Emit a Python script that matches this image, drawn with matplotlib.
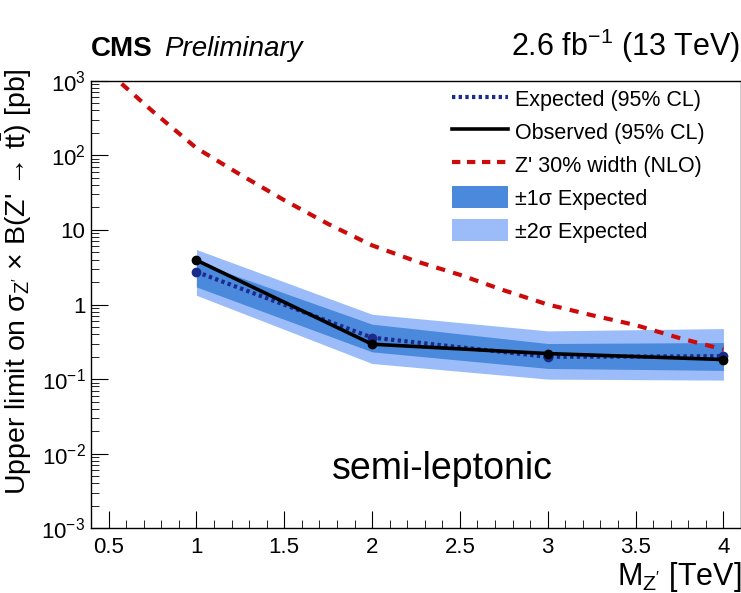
import matplotlib
matplotlib.use("Agg")
import matplotlib.pyplot as plt
from matplotlib.ticker import FixedLocator, MultipleLocator, NullFormatter
from matplotlib.patches import Patch
from matplotlib.lines import Line2D

plt.rcParams['font.family'] = ['Liberation Sans', 'DejaVu Sans']
plt.rcParams['mathtext.fontset'] = 'custom'
plt.rcParams['mathtext.rm'] = 'Liberation Sans'
plt.rcParams['mathtext.it'] = 'Liberation Sans:italic'
plt.rcParams['mathtext.bf'] = 'Liberation Sans:bold'

# Z' mass points [TeV] and limits [pb]
mass = [1.0, 2.0, 3.0, 4.0]
observed = [3.93, 0.294, 0.22, 0.183]
expected = [2.74, 0.36, 0.199, 0.203]
exp_m1 = [1.72, 0.232, 0.139, 0.131]
exp_p1 = [3.72, 0.545, 0.30, 0.309]
exp_m2 = [1.33, 0.162, 0.100, 0.097]
exp_p2 = [5.46, 0.74, 0.443, 0.476]

# Theory cross section, Z' with 30% width (NLO)
theory_mass = [0.5, 0.75, 1.0, 1.25, 1.5, 1.75, 2.0, 2.25, 2.5, 2.75,
               3.0, 3.25, 3.5, 3.75, 4.0]
theory_xsec = [1300.0, 390.0, 125.0, 55.0, 25.0, 12.0, 6.2, 3.8, 2.5, 1.55,
               1.0, 0.72, 0.53, 0.355, 0.25]

y_ticks = [1e-3, 1e-2, 1e-1, 1, 10, 1e2, 1e3]
y_tick_labels = [r'$10^{-3}$', r'$10^{-2}$', r'$10^{-1}$', '1', '10',
                 r'$10^{2}$', r'$10^{3}$']
x_ticks = [0.5, 1, 1.5, 2, 2.5, 3, 3.5, 4]
x_tick_labels = ['0.5', '1', '1.5', '2', '2.5', '3', '3.5', '4']

c_1sig = '#4a89dc'
c_2sig = '#9bbcf8'
c_exp = '#1c2a8c'
c_th = '#cc0a0a'

fig = plt.figure(figsize=(7.41, 5.93), dpi=100)
ax = fig.add_axes([0.1228, 0.109, 0.8772, 0.755])

ax.fill_between(mass, exp_m2, exp_p2, color=c_2sig, lw=0, zorder=1)
ax.fill_between(mass, exp_m1, exp_p1, color=c_1sig, lw=0, zorder=2)
ax.plot(theory_mass, theory_xsec, color=c_th, lw=3.0, ls=(0, (2.2, 2.0)),
        zorder=3)
ax.plot(mass, expected, color=c_exp, lw=3.0, ls=(0, (0.8, 0.8)),
        marker='o', ms=6, zorder=4)
ax.plot(mass, observed, color='black', lw=2.6, marker='o', ms=6, zorder=5)

ax.set_yscale('log')
ax.set_ylim(1e-3, 1e3)
ax.set_xlim(0.4, 4.1)
ax.yaxis.set_major_locator(FixedLocator(y_ticks))
ax.set_yticklabels(y_tick_labels)
ax.set_xticks(x_ticks)
ax.set_xticklabels(x_tick_labels)
ax.xaxis.set_minor_locator(MultipleLocator(0.1))
ax.tick_params(axis='both', which='both', direction='in', top=False,
               right=False, labelsize=16)
ax.tick_params(axis='x', which='major', length=12, pad=6)
ax.tick_params(axis='x', which='minor', length=6)
ax.tick_params(axis='y', which='major', length=12, pad=4)
ax.tick_params(axis='y', which='minor', length=6)
ax.yaxis.set_minor_formatter(NullFormatter())
for s in ax.spines.values():
    s.set_linewidth(1.0)

ax.set_xlabel(r"M$_{\mathrm{Z'}}$ [TeV]", fontsize=22, loc='right',
              labelpad=2)
ax.set_ylabel("Upper limit on σ$_{\\mathrm{Z'}}$ × B(Z' → t$\\bar{\\mathrm{t}}$) [pb]",
              fontsize=20.5)
ax.yaxis.set_label_coords(-0.088, 0.55)

fig.text(0.1228, 0.905, 'CMS', fontsize=20, fontweight='bold',
         ha='left', va='baseline')
fig.text(0.222, 0.905, 'Preliminary', fontsize=20, style='italic',
         ha='left', va='baseline')
fig.text(0.999, 0.905, r'2.6 fb$^{-1}$ (13 TeV)', fontsize=22,
         ha='right', va='baseline')

ax.text(0.54, 0.11, 'semi-leptonic', transform=ax.transAxes,
        fontsize=27, ha='center', va='baseline')

handles = [
    Line2D([], [], color=c_exp, lw=3.0, ls=(0, (0.8, 0.8))),
    Line2D([], [], color='black', lw=2.6),
    Line2D([], [], color=c_th, lw=3.0, ls=(0, (2.0, 1.6))),
    Patch(facecolor=c_1sig, edgecolor='none'),
    Patch(facecolor=c_2sig, edgecolor='none'),
]
labels = ['Expected (95% CL)', 'Observed (95% CL)', "Z' 30% width (NLO)",
          '±1σ Expected', '±2σ Expected']
ax.legend(handles, labels, loc='upper left', bbox_to_anchor=(0.556, 0.985),
          frameon=False, fontsize=15.5, handlelength=2.6, handleheight=1.2,
          handletextpad=0.3, labelspacing=0.45, borderpad=0,
          borderaxespad=0)

fig.savefig('out.png', dpi=100)
